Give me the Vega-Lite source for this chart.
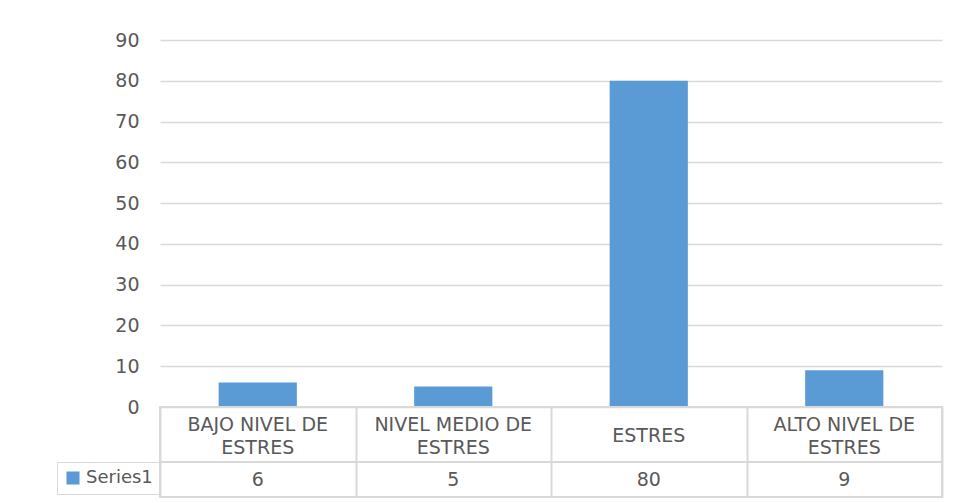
{
  "$schema": "https://vega.github.io/schema/vega-lite/v6.json",
  "padding": {"left": 55, "top": 31, "right": 13, "bottom": 6},
  "background": "white",
  "datasets": {
    "d": [
      {"category": "BAJO NIVEL DE\nESTRES", "series": "Series1", "value": 6},
      {"category": "NIVEL MEDIO DE\nESTRES", "series": "Series1", "value": 5},
      {"category": "ESTRES", "series": "Series1", "value": 80},
      {"category": "ALTO NIVEL DE\nESTRES", "series": "Series1", "value": 9}
    ]
  },
  "config": {
    "font": "DejaVu Sans",
    "view": {"stroke": null}
  },
  "spacing": 0,
  "bounds": "flush",
  "resolve": {"scale": {"x": "independent", "color": "independent"}, "legend": {"color": "independent"}},
  "vconcat": [
    {
      "width": 782,
      "height": 367,
      "data": {"name": "d"},
      "mark": {"type": "bar", "color": "#5B9BD5"},
      "encoding": {
        "x": {"field": "category", "type": "nominal", "sort": null, "scale": {"paddingInner": 0.6, "paddingOuter": 0.3}, "axis": null},
        "y": {"field": "value", "type": "quantitative", "scale": {"domain": [0, 90]},
          "axis": {"values": [0, 10, 20, 30, 40, 50, 60, 70, 80, 90], "title": null, "ticks": false, "domain": false, "labelPadding": 21, "labelFontSize": 19, "labelColor": "#595959", "gridColor": "#d9d9d9", "gridWidth": 1.5}}
      }
    },
    {
      "width": 782,
      "height": 55,
      "view": {"stroke": "#d9d9d9", "strokeWidth": 2},
      "data": {"name": "d"},
      "encoding": {
        "x": {"field": "category", "type": "nominal", "sort": null,
          "scale": {"domain": ["BAJO NIVEL DE\nESTRES", "NIVEL MEDIO DE\nESTRES", "ESTRES", "ALTO NIVEL DE\nESTRES"], "paddingInner": 0, "paddingOuter": 0},
          "axis": {"labels": false, "ticks": false, "domain": false, "title": null, "grid": true, "tickBand": "extent", "gridColor": "#d9d9d9", "gridWidth": 2}},
        "text": {"field": "category"}
      },
      "layer": [
        {
          "transform": [{"filter": "indexof(datum.category, 'ESTRES') > 0"}],
          "mark": {"type": "text", "fontSize": 19, "color": "#595959", "lineBreak": "\n", "lineHeight": 23, "dy": -10}
        },
        {
          "transform": [{"filter": "indexof(datum.category, 'ESTRES') == 0"}],
          "mark": {"type": "text", "fontSize": 19, "color": "#595959", "dy": 1}
        }
      ]
    },
    {
      "width": 782,
      "height": 35,
      "view": {"stroke": "#d9d9d9", "strokeWidth": 2},
      "data": {"name": "d"},
      "encoding": {
        "x": {"field": "category", "type": "nominal", "sort": null, "scale": {"paddingInner": 0, "paddingOuter": 0},
          "axis": {"labels": false, "ticks": false, "domain": false, "title": null, "grid": true, "tickBand": "extent", "gridColor": "#d9d9d9", "gridWidth": 2}}
      },
      "layer": [
        {
          "mark": {"type": "point", "filled": true, "shape": "square", "opacity": 0},
          "encoding": {
            "color": {"field": "series", "type": "nominal", "scale": {"range": ["#5B9BD5"]},
              "legend": {"orient": "left", "offset": 0, "title": null, "padding": 7, "strokeColor": "#d9d9d9", "symbolType": "square", "symbolSize": 170, "symbolOpacity": 1, "symbolStrokeWidth": 0, "labelFontSize": 18, "labelColor": "#595959", "labelOffset": 4}}
          }
        },
        {
          "mark": {"type": "text", "fontSize": 19, "color": "#595959"},
          "encoding": {"text": {"field": "value", "type": "quantitative"}}
        }
      ]
    }
  ]
}
